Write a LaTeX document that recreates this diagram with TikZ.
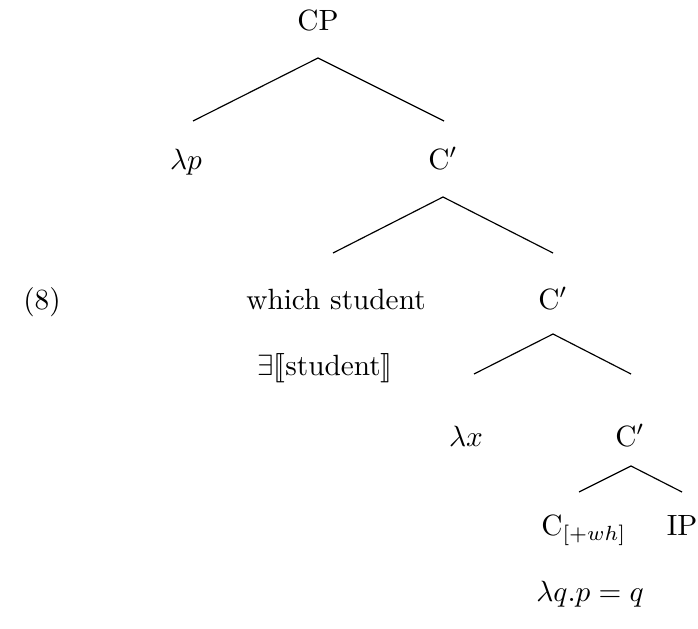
\documentclass[tikz,border=0pt]{standalone}
\usepackage{stmaryrd}
\begin{document}
\begin{tikzpicture}[
    x=0.3413pt, y=-0.3413pt,
    word/.style={anchor=base, inner sep=0pt},
    branch/.style={line width=0.4pt}
]
    \useasboundingbox (0,0) rectangle (698,628);

    % Example number
    \node[word] (ex) at (42,309) {(8)};

    % Tree nodes
    \node[word] (cp) at (318,31) {CP};
    \node[word] (lp) at (186,169) {$\lambda p$};
    \node[word] (c1) at (443,169) {C$'$};
    \node[word] (ws) at (336,309) {which student};
    \node[word] (c2) at (553,309) {C$'$};
    \node[word] (ex-st) at (325,375) {$\exists\llbracket\mathrm{student}\rrbracket$};
    \node[word] (lx) at (466,446) {$\lambda x$};
    \node[word] (c3) at (630,446) {C$'$};
    \node[word] (cwh) at (584,535) {C$_{[+wh]}$};
    \node[word] (ip) at (682,535) {IP};
    \node[word] (lq) at (590,601) {$\lambda q.p = q$};

    % Branch points
    \coordinate (a1) at (318,58);
    \coordinate (l1) at (193,121);
    \coordinate (r1) at (444,121);
    \coordinate (a2) at (443,197);
    \coordinate (l2) at (333,253);
    \coordinate (r2) at (553,253);
    \coordinate (a3) at (553,334);
    \coordinate (l3) at (474,374);
    \coordinate (r3) at (631,374);
    \coordinate (a4) at (631,466);
    \coordinate (l4) at (579,492);
    \coordinate (r4) at (682,492);

    % Branches
    \draw[branch] (l1) -- (a1) -- (r1);
    \draw[branch] (l2) -- (a2) -- (r2);
    \draw[branch] (l3) -- (a3) -- (r3);
    \draw[branch] (l4) -- (a4) -- (r4);

\end{tikzpicture}
\end{document}
